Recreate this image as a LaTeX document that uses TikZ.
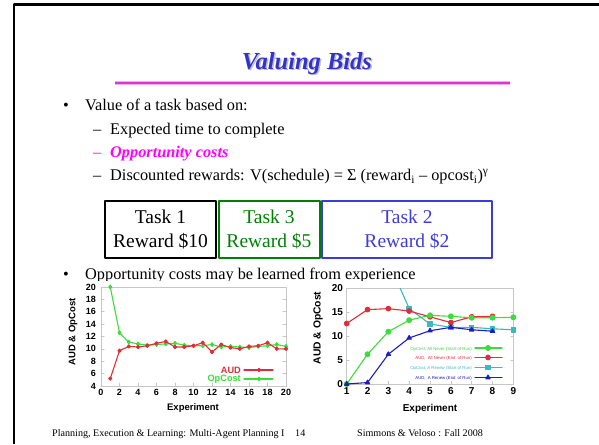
\documentclass[tikz,border=0pt]{standalone}
\usepackage{fontspec}
\setmainfont{Liberation Serif}
\newfontfamily\chartsans{Liberation Sans}
\usetikzlibrary{positioning,plotmarks}

\definecolor{titleblue}{RGB}{51,51,204}
\definecolor{oppink}{RGB}{255,0,255}
\definecolor{rulepink}{RGB}{225,50,215}
\definecolor{taskgreen}{RGB}{0,128,0}
\definecolor{taskblue}{RGB}{60,60,215}
\definecolor{audred}{RGB}{225,45,55}
\definecolor{opgreen}{RGB}{60,220,60}
\definecolor{renewcyan}{RGB}{60,185,190}
\definecolor{renewblue}{RGB}{30,30,190}

\tikzset{
  bodyline/.style={anchor=base west, inner sep=0pt, font=\fontsize{16.3}{19}\selectfont},
  bodymark/.style={anchor=base, inner sep=0pt, font=\fontsize{16.3}{19}\selectfont},
  titletext/.style={anchor=base, inner sep=0pt, font=\bfseries\itshape\fontsize{24.5}{28}\selectfont},
  taskbox/.style={draw, line width=2pt, minimum height=57pt, align=center, inner sep=0pt,
    font=\fontsize{19.5}{24}\selectfont},
  footline/.style={anchor=base west, inner sep=0pt, font=\fontsize{10.1}{12}\selectfont},
  ticklbl/.style={inner sep=0pt, font=\chartsans\bfseries\fontsize{9}{10}\selectfont},
  ylbl/.style={ticklbl, anchor=east, xshift=-5pt},
  xlbl/.style={ticklbl, anchor=north, yshift=-3.5pt},
  axislbl/.style={inner sep=0pt, font=\chartsans\bfseries\fontsize{9.5}{10}\selectfont},
  keylbl/.style={anchor=east, inner sep=0pt, font=\chartsans\bfseries\fontsize{9.2}{10}\selectfont},
  tinykey/.style={anchor=east, inner sep=0pt, font=\chartsans\fontsize{4.3}{5}\selectfont},
  frameline/.style={gray!45, line width=0.5pt},
  dataline/.style={line width=1.1pt}
}

\begin{document}
\begin{tikzpicture}[x=1pt,y=-1pt,line cap=round,line join=round]
  \useasboundingbox (0,0) rectangle (599,444);
  \draw[line width=2.2pt, line cap=butt] (13.7,444) -- (13.7,4.5) -- (599,4.5);

  \node[titletext, text=gray!50] (titleshadow) at (308.5,70.5) {Valuing Bids};
  \node[titletext, text=titleblue] (title) at (307,69) {Valuing Bids};
  \draw[rulepink!40, line width=4pt, line cap=butt] (115,83) -- (510,83);
  \draw[rulepink, line width=1.6pt, line cap=butt] (115,83) -- (510,83);

  \node[bodymark] (dot1) at (66,110.7) {\textbullet};
  \node[bodyline] (item1) at (85,110.7) {Value of a task based on:};
  \node[bodyline] (dash1) at (93,134) {–};
  \node[bodyline] (sub1) at (110,134) {Expected time to complete};
  \node[bodyline, text=oppink] (dash2) at (93,157.3) {–};
  \node[bodyline, text=oppink, font=\bfseries\itshape\fontsize{16.3}{19}\selectfont] (sub2) at (110,157.3) {Opportunity costs};
  \node[bodyline] (dash3) at (93,180.6) {–};
  \node[bodyline] (sub3) at (110,180.6)
    {Discounted rewards: V(schedule) = Σ (reward\textsubscript{i} – opcost\textsubscript{i})\textsuperscript{γ}};

  \node[taskbox, minimum width=111pt] (task1) at (160.5,229.5) {Task 1\\Reward \$10};
  \node[taskbox, minimum width=101pt, draw=taskgreen, text=taskgreen, right=0.5pt of task1] (task3) {Task 3\\Reward \$5};
  \node[taskbox, minimum width=170pt, draw=taskblue, text=taskblue, right=0.5pt of task3] (task2) {Task 2\\Reward \$2};

  \node[bodymark] (dot2) at (66,279) {\textbullet};
  \node[bodyline] (item2) at (85,279) {Opportunity costs may be learned from experience};

  \fill[white] (55,280.5) rectangle (298,420);
  \fill[white] (300,280.5) rectangle (560,420);

  \begin{scope}[shift={(101,410.76)},x=9.25pt,y=6.19pt]
    \draw[frameline] (0,4) rectangle (20,20);
    \foreach \v in {4,6,...,20} {
      \draw[frameline] (0,\v) -- ++(0.35,0);
      \draw[frameline] (20,\v) -- ++(-0.35,0);
      \node[ylbl] (ly\v) at (0,\v) {\v};
    }
    \foreach \v in {0,2,...,20} {
      \draw[frameline] (\v,4) -- ++(0,0.5);
      \node[xlbl] (lx\v) at (\v,4) {\v};
    }
    \draw[dataline, opgreen] plot[mark=diamond*, mark size=1.8pt] coordinates {
      (1,20) (2,12.6) (3,11.1) (4,10.8) (5,10.6) (6,10.7) (7,10.8) (8,10.9) (9,10.6) (10,10.5)
      (11,10.5) (12,10.7) (13,10.3) (14,10.4) (15,10.3) (16,10.2) (17,10.4) (18,10.5) (19,10.7) (20,10.4)};
    \draw[dataline, audred] plot[mark=*, mark size=1.6pt] coordinates {
      (1,5.2) (2,9.7) (3,10.4) (4,10.3) (5,10.5) (6,10.9) (7,11.2) (8,10.3) (9,10.3) (10,10.5)
      (11,11.0) (12,9.5) (13,10.7) (14,10.2) (15,10.0) (16,10.4) (17,10.5) (18,11.0) (19,10.0) (20,10.0)};
  \end{scope}
  \node[axislbl] (lxlabel) at (193,408) {Experiment};
  \node[axislbl, rotate=90] (lylabel) at (73,332) {AUD \& OpCost};
  \node[keylbl, text=audred] (audkey) at (241,370) {AUD};
  \draw[dataline, audred] plot[mark=*, mark size=1.6pt, mark indices={2}] coordinates {(244,370) (259,370) (273,370)};
  \node[keylbl, text=opgreen] (opkey) at (241,379) {OpCost};
  \draw[dataline, opgreen] plot[mark=diamond*, mark size=1.8pt, mark indices={2}] coordinates {(244,379) (259,379) (273,379)};

  \begin{scope}[shift={(325.87,384)},x=20.83pt,y=4.8pt]
    \draw[frameline] (1,0) rectangle (9,20);
    \foreach \v in {0,5,...,20} {
      \draw[frameline] (1,\v) -- ++(0.12,0);
      \draw[frameline] (9,\v) -- ++(-0.12,0);
      \node[ylbl, xshift=1.5pt, font=\chartsans\bfseries\fontsize{10}{11}\selectfont] (ry\v) at (1,\v) {\v};
    }
    \foreach \v in {1,...,9} {
      \draw[frameline] (\v,0) -- ++(0,0.6);
      \node[xlbl, font=\chartsans\bfseries\fontsize{10}{11}\selectfont] (rx\v) at (\v,0) {\v};
    }
    \begin{scope}
      \clip (0.5,-2) rectangle (9.5,20);
      \draw[dataline, renewcyan] plot[mark=square*, mark size=2.2pt] coordinates {
        (3,25.5) (4,15.7) (5,12.5) (6,11.8) (7,11.8) (8,11.5) (9,11.3)};
      \draw[dataline, audred] plot[mark=*, mark size=2.3pt] coordinates {
        (1,12.6) (2,15.5) (3,15.7) (4,15.2) (5,14.0) (6,12.8) (7,14.0) (8,14.1)};
      \draw[dataline, opgreen] plot[mark=*, mark size=2.4pt] coordinates {
        (1,0) (2,6.2) (3,10.9) (4,13.3) (5,14.3) (6,14.1) (7,13.8) (8,13.8) (9,13.9)};
      \draw[dataline, renewblue] plot[mark=triangle*, mark size=2.4pt] coordinates {
        (1,0) (2,0.3) (3,6.2) (4,9.6) (5,11.1) (6,11.8) (7,11.3) (8,11.0)};
    \end{scope}
  \end{scope}
  \node[axislbl, font=\chartsans\bfseries\fontsize{10}{11}\selectfont] (rxlabel) at (430,409) {Experiment};
  \node[axislbl, rotate=90, font=\chartsans\bfseries\fontsize{10.3}{11}\selectfont] (rylabel) at (318,328) {AUD \& OpCost};

  \node[tinykey, text=opgreen] (key1) at (472,349) {OpCost, All Never (Start of Run)};
  \draw[dataline, opgreen] plot[mark=*, mark size=2.4pt, mark indices={2}] coordinates {(475,348) (488,348) (502,348)};
  \node[tinykey, text=audred] (key2) at (472,358.5) {AUD,\enspace All Never (End\enspace of Run)};
  \draw[dataline, audred] plot[mark=*, mark size=2.3pt, mark indices={2}] coordinates {(475,357.5) (488,357.5) (502,357.5)};
  \node[tinykey, text=renewcyan] (key3) at (472,368.5) {OpCost, A Renew (Start of Run)};
  \draw[dataline, renewcyan] plot[mark=square*, mark size=2.2pt, mark indices={2}] coordinates {(475,367.5) (488,367.5) (502,367.5)};
  \node[tinykey, text=renewblue] (key4) at (472,378.5) {AUD,\enspace A Renew (End\enspace of Run)};
  \draw[dataline, renewblue] plot[mark=triangle*, mark size=2.4pt, mark indices={2}] coordinates {(475,377.5) (488,377.5) (502,377.5)};

  \node[footline] (footL) at (52,436) {Planning, Execution \& Learning: Multi-Agent Planning I};
  \node[footline] (footN) at (295,436) {14};
  \node[footline] (footR) at (357,436) {Simmons \& Veloso : Fall 2008};
\end{tikzpicture}
\end{document}
